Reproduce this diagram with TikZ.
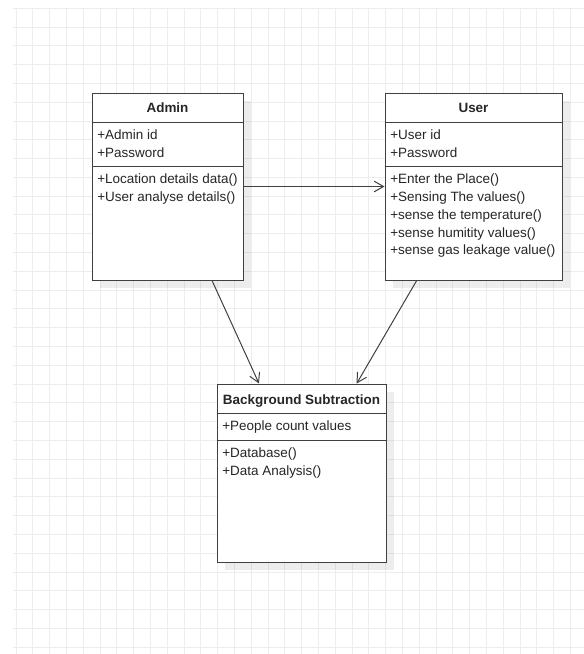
\documentclass[tikz,border=0pt]{standalone}
\usepackage{fontspec}
\setmainfont{Liberation Sans}
\usetikzlibrary{arrows.meta,shadows}

\newcommand\umlfont{\fontsize{10.1pt}{13.4pt}\selectfont}

\tikzset{
  gridline/.style={draw=black!7,line width=0.75pt},
  umlclass/.style={draw=black!75,line width=0.75pt,fill=white,inner sep=0pt,
    drop shadow={shadow xshift=6pt,shadow yshift=-6pt,opacity=0.07,fill=black}},
  umlsep/.style={draw=black!75,line width=0.75pt},
  umlhead/.style={anchor=base,inner sep=0pt,font=\umlfont\bfseries,text=black!85},
  umltext/.style={anchor=base west,inner sep=0pt,font=\umlfont,text=black!85},
  assoc/.style={draw=black!75,line width=0.75pt,-{Straight Barb[length=7pt,width=8pt]}}
}

\begin{document}
\begin{tikzpicture}[x=0.75pt,y=-0.75pt]
\useasboundingbox (0,0) rectangle (584,654);

% background grid
\foreach \i in {0,...,33}
  \draw[gridline] ({16+\i*16.8},8) -- ({16+\i*16.8},654);
\foreach \j in {0,...,34}
  \draw[gridline] (13,{8.3+\j*18.79}) -- (584,{8.3+\j*18.79});

% Admin
\node[umlclass,minimum width=113.25pt,minimum height=140.25pt] (admin) at (167.5,186.5) {};
\draw[umlsep] (admin.west |- 0,122.3) -- (admin.east |- 0,122.3);
\draw[umlsep] (admin.west |- 0,166.3) -- (admin.east |- 0,166.3);
\node[umlhead] (admin-h) at (admin.north |- 0,112.3) {Admin};
\foreach \t [count=\n] in {+Admin id,+Password}
  \node[umltext] (admin-a\n) at (97,{139.5+(\n-1)*17.9}) {\t};
\foreach \t [count=\n] in {+Location details data(),+User analyse details()}
  \node[umltext] (admin-m\n) at (97,{183.3+(\n-1)*17.9}) {\t};

% User
\node[umlclass,minimum width=132.75pt,minimum height=140.25pt] (user) at (473.5,186.5) {};
\draw[umlsep] (user.west |- 0,122.3) -- (user.east |- 0,122.3);
\draw[umlsep] (user.west |- 0,166.3) -- (user.east |- 0,166.3);
\node[umlhead] (user-h) at (user.north |- 0,112.3) {User};
\foreach \t [count=\n] in {+User id,+Password}
  \node[umltext] (user-a\n) at (390,{139.5+(\n-1)*17.9}) {\t};
\foreach \t [count=\n] in {+Enter the Place(),+Sensing The values(),+sense the temperature(),+sense humitity values(),+sense gas leakage value()}
  \node[umltext] (user-m\n) at (390,{183.3+(\n-1)*17.9}) {\t};

% Background Subtraction
\node[umlclass,minimum width=126.75pt,minimum height=133.5pt] (bgsub) at (301.5,473) {};
\draw[umlsep] (bgsub.west |- 0,413.3) -- (bgsub.east |- 0,413.3);
\draw[umlsep] (bgsub.west |- 0,440) -- (bgsub.east |- 0,440);
\node[umlhead] (bgsub-h) at (bgsub.north |- 0,404.3) {Background Subtraction};
\node[umltext] (bgsub-a1) at (222,430.5) {+People count values};
\foreach \t [count=\n] in {+Database(),+Data Analysis()}
  \node[umltext] (bgsub-m\n) at (222,{457.2+(\n-1)*17.9}) {\t};

% associations
\draw[assoc] (admin.east) -- (user.west);
\draw[assoc] ([xshift=33.4pt]admin.south) -- ([xshift=-31.9pt]bgsub.north);
\draw[assoc] ([xshift=-42.6pt]user.south) -- ([xshift=41.4pt]bgsub.north);
\end{tikzpicture}
\end{document}
